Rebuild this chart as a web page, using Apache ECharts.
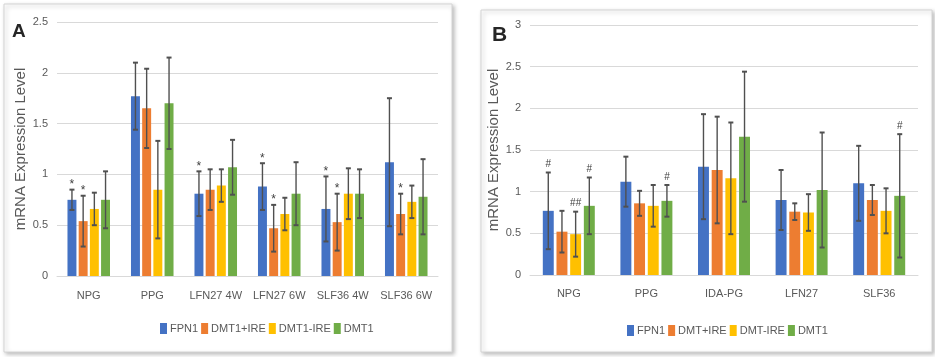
<!DOCTYPE html>
<html>
<head>
<meta charset="utf-8">
<script src="https://cdn.jsdelivr.net/npm/echarts@6/dist/echarts.min.js"></script>
<style>
  html, body { margin: 0; padding: 0; background: #fff; }
  #main { width: 935px; height: 357px; }
</style>
</head>
<body>
<div id="main"></div>
<script>
// ---- panel A data ----
var catsA = ['NPG', 'PPG', 'LFN27 4W', 'LFN27 6W', 'SLF36 4W', 'SLF36 6W'];
var namesA = ['FPN1', 'DMT1+IRE', 'DMT1-IRE', 'DMT1'];
var fpn1A = [0.75, 1.77, 0.81, 0.88, 0.66, 1.12];
var dmtIreA = [0.54, 1.65, 0.85, 0.47, 0.53, 0.61];
var dmtNoIreA = [0.66, 0.85, 0.89, 0.61, 0.81, 0.73];
var dmt1A = [0.75, 1.70, 1.07, 0.81, 0.81, 0.78];
var fpn1ErrA = [0.10, 0.33, 0.22, 0.23, 0.32, 0.63];
var dmtIreErrA = [0.25, 0.39, 0.20, 0.23, 0.28, 0.20];
var dmtNoIreErrA = [0.16, 0.48, 0.16, 0.16, 0.25, 0.16];
var dmt1ErrA = [0.28, 0.45, 0.27, 0.31, 0.24, 0.37];
var fpn1MarkA = ['*', '', '*', '*', '*', ''];
var dmtIreMarkA = ['*', '', '', '*', '*', '*'];
var dmtNoIreMarkA = ['', '', '', '', '', ''];
var dmt1MarkA = ['', '', '', '', '', ''];

// ---- panel B data ----
var catsB = ['NPG', 'PPG', 'IDA-PG', 'LFN27', 'SLF36'];
var namesB = ['FPN1', 'DMT+IRE', 'DMT-IRE', 'DMT1'];
var fpn1B = [0.77, 1.12, 1.30, 0.90, 1.10];
var dmtIreB = [0.52, 0.86, 1.26, 0.76, 0.90];
var dmtNoIreB = [0.49, 0.83, 1.16, 0.75, 0.77];
var dmt1B = [0.83, 0.89, 1.66, 1.02, 0.95];
var fpn1ErrB = [0.46, 0.30, 0.63, 0.36, 0.45];
var dmtIreErrB = [0.25, 0.15, 0.64, 0.10, 0.18];
var dmtNoIreErrB = [0.27, 0.25, 0.67, 0.22, 0.27];
var dmt1ErrB = [0.34, 0.19, 0.78, 0.69, 0.74];
var fpn1MarkB = ['#', '', '', '', ''];
var dmtIreMarkB = ['', '', '', '', ''];
var dmtNoIreMarkB = ['##', '', '', '', ''];
var dmt1MarkB = ['#', '#', '', '', '#'];

var colors = ['#4472C4', '#ED7D31', '#FFC000', '#70AD47'];
var CAT_GAP = 0.33, BAR_GAP = 0.25;
var FONT = '"Liberation Sans", Arial, sans-serif';
var TXT = '#595959';

function errRenderer(idx, n, marks) {
  return function (params, api) {
    var band = api.size([1, 0])[0];
    var total = band * (1 - CAT_GAP);
    var w = total / (n + (n - 1) * BAR_GAP);
    var off = -total / 2 + idx * w * (1 + BAR_GAP) + w / 2;
    var ci = api.value(0);
    var x = api.coord([ci, 0])[0] + off;
    var yLo = api.coord([ci, api.value(1)])[1];
    var yHi = api.coord([ci, api.value(2)])[1];
    var st = { stroke: '#505050', lineWidth: 1.4 };
    var capSt = { stroke: '#505050', lineWidth: 2 };
    var kids = [
      { type: 'line', shape: { x1: x, y1: yHi, x2: x, y2: yLo }, style: st },
      { type: 'line', shape: { x1: x - 2.5, y1: yHi, x2: x + 2.5, y2: yHi }, style: capSt },
      { type: 'line', shape: { x1: x - 2.5, y1: yLo, x2: x + 2.5, y2: yLo }, style: capSt }
    ];
    var m = marks[params.dataIndex];
    if (m) {
      var isStar = m.charAt(0) === '*';
      kids.push({
        type: 'text',
        style: {
          text: m, x: x, y: yHi - (isStar ? 5 : 8),
          align: 'center', verticalAlign: 'middle',
          fill: '#404040', font: (isStar ? '12px' : '10px') + ' Arial, sans-serif'
        }
      });
    }
    return { type: 'group', children: kids };
  };
}

function buildPanel(gi, names, means, errs, marks) {
  var out = [];
  names.forEach(function (nm, i) {
    out.push({
      name: nm, type: 'bar', xAxisIndex: gi, yAxisIndex: gi,
      data: means[i], barGap: (BAR_GAP * 100) + '%', barCategoryGap: (CAT_GAP * 100) + '%',
      itemStyle: { color: colors[i] }, z: 2
    });
  });
  names.forEach(function (nm, i) {
    out.push({
      name: 'err' + gi + '_' + i, type: 'custom', xAxisIndex: gi, yAxisIndex: gi,
      data: means[i].map(function (v, k) { return [k, v - errs[i][k], v + errs[i][k]]; }),
      renderItem: errRenderer(i, names.length, marks[i]), z: 5, silent: true
    });
  });
  return out;
}

function xAxisCfg(gi, cats, margin) {
  return {
    type: 'category', gridIndex: gi, data: cats,
    axisTick: { show: false },
    axisLine: { lineStyle: { color: '#d9d9d9', width: 1 } },
    axisLabel: { color: TXT, fontSize: 11, fontFamily: FONT, margin: margin, interval: 0 }
  };
}
function yAxisCfg(gi, max, gap) {
  return {
    type: 'value', gridIndex: gi, min: 0, max: max, interval: 0.5,
    name: 'mRNA Expression Level', nameLocation: 'middle', nameGap: gap,
    nameTextStyle: { color: TXT, fontSize: 15, fontFamily: FONT },
    axisLine: { show: false }, axisTick: { show: false },
    axisLabel: { color: TXT, fontSize: 11, fontFamily: FONT, margin: 9 },
    splitLine: { lineStyle: { color: '#d9d9d9', width: 1 } }
  };
}

var chart = echarts.init(document.getElementById('main'));
chart.setOption({
  animation: false,
  backgroundColor: '#fff',
  graphic: [
    { type: 'rect', z: -10, shape: { x: 4, y: 4, width: 448, height: 348 },
      style: { fill: '#fff', stroke: '#d4d4d4', lineWidth: 1, shadowBlur: 4, shadowColor: 'rgba(0,0,0,0.25)', shadowOffsetX: 2, shadowOffsetY: 2 } },
    { type: 'rect', z: -10, shape: { x: 481, y: 10, width: 451, height: 342 },
      style: { fill: '#fff', stroke: '#d4d4d4', lineWidth: 1, shadowBlur: 4, shadowColor: 'rgba(0,0,0,0.25)', shadowOffsetX: 2, shadowOffsetY: 2 } },
    { type: 'text', left: 12, top: 22, style: { text: 'A', font: 'bold 19px "Liberation Sans", Arial, sans-serif', fill: '#262626' } },
    { type: 'text', left: 492, top: 25, style: { text: 'B', font: 'bold 21px "Liberation Sans", Arial, sans-serif', fill: '#262626' } }
  ],
  legend: [
    { data: namesA, left: 160, top: 323, padding: 0, itemWidth: 7, itemHeight: 11, itemGap: 3, icon: 'rect',
      textStyle: { color: TXT, fontSize: 11, fontFamily: FONT, padding: [0, 0, 0, -2] } },
    { data: namesB, left: 627, top: 325, padding: 0, itemWidth: 7, itemHeight: 11, itemGap: 3, icon: 'rect',
      textStyle: { color: TXT, fontSize: 11, fontFamily: FONT, padding: [0, 0, 0, -2] } }
  ],
  grid: [
    { left: 57, right: 497, top: 22, bottom: 81 },
    { left: 530, right: 17, top: 25, bottom: 82 }
  ],
  xAxis: [xAxisCfg(0, catsA, 14), xAxisCfg(1, catsB, 13)],
  yAxis: [yAxisCfg(0, 2.5, 27), yAxisCfg(1, 3, 26)],
  series: [].concat(
    buildPanel(0, namesA, [fpn1A, dmtIreA, dmtNoIreA, dmt1A],
      [fpn1ErrA, dmtIreErrA, dmtNoIreErrA, dmt1ErrA],
      [fpn1MarkA, dmtIreMarkA, dmtNoIreMarkA, dmt1MarkA]),
    buildPanel(1, namesB, [fpn1B, dmtIreB, dmtNoIreB, dmt1B],
      [fpn1ErrB, dmtIreErrB, dmtNoIreErrB, dmt1ErrB],
      [fpn1MarkB, dmtIreMarkB, dmtNoIreMarkB, dmt1MarkB])
  )
});
</script>
</body>
</html>
